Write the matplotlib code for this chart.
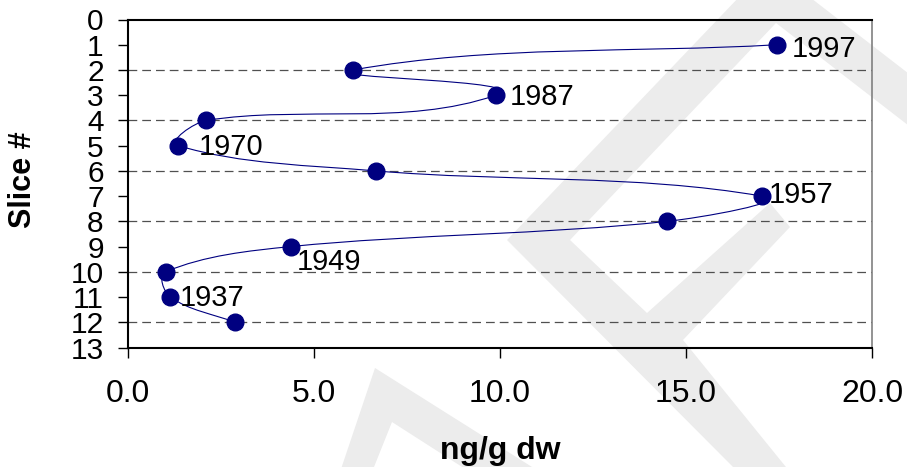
import numpy as np
import matplotlib
matplotlib.use('Agg')
import matplotlib.pyplot as plt
from matplotlib.path import Path
from matplotlib.patches import PathPatch, Polygon

# ---------------- data ----------------
conc = [17.44, 6.05, 9.89, 2.11, 1.35, 6.66, 17.04, 14.50, 4.37, 1.01, 1.14, 2.87]
slice_no = [1, 2, 3, 4, 5, 6, 7, 8, 9, 10, 11, 12]
year_labels = ['1997', '', '1987', '', '1970', '', '1957', '', '1949', '', '1937', '']
x_ticks = [0, 5, 10, 15, 20]
x_tick_labels = ['0.0', '5.0', '10.0', '15.0', '20.0']
y_ticks = list(range(0, 14))
grid_y = [2, 4, 6, 8, 10, 12]

# label offsets (points) for the year annotations - styling only
label_offsets = {'1997': (11, -3), '1987': (10, -1), '1970': (15, -0.7),
                 '1957': (5, 0.5), '1949': (4.5, -10.8), '1937': (6.5, -0.7)}

plt.rcParams['font.family'] = ['Liberation Sans', 'DejaVu Sans']

W, H = 907, 467
fig = plt.figure(figsize=(W / 100, H / 100), dpi=100)

# faint background watermark (decoration)
wm_color = '#ececec'
wm_shapes = [
    [(741, -5), (807, -5), (935, 94), (935, 146), (776, 23), (570, 240), (647, 313),
     (770, 203), (790, 227), (683, 340), (790, 472), (738, 472), (507, 240)],
    [(375, 368), (540, 472), (470, 472), (392, 422), (372, 472), (340, 472)],
]
for shp in wm_shapes:
    fig.patches.append(Polygon([(x / W, 1 - y / H) for x, y in shp], closed=True,
                               transform=fig.transFigure, facecolor=wm_color,
                               edgecolor='none', zorder=-5))

ax_w, ax_h = 744, 328
ax = fig.add_axes([128 / W, 1 - 347.5 / H, ax_w / W, ax_h / H])
ax.set_facecolor('none')

xmin, xmax, ymin, ymax = 0, 20, 0, 13

# dashed horizontal gridlines
for g in grid_y:
    ax.axhline(g, color='#505050', lw=0.9, ls=(0, (7, 4)), zorder=1)

# smoothed connecting line (Bezier through the points, tangents scaled to segment length)
sx = ax_w / (xmax - xmin)
sy = ax_h / (ymax - ymin)
S = np.array([sx, sy])
Q = np.column_stack([conc, slice_no]).astype(float) * S
n = len(Q)
T = []
for i in range(n):
    if i == 0:
        d = Q[1] - Q[0]
    elif i == n - 1:
        d = Q[n - 1] - Q[n - 2]
    else:
        d = Q[i + 1] - Q[i - 1]
    T.append(d / np.linalg.norm(d))
verts = [Q[0] / S]
codes = [Path.MOVETO]
for i in range(n - 1):
    L = np.linalg.norm(Q[i + 1] - Q[i])
    c1 = Q[i] + T[i] * L / 3.0
    c2 = Q[i + 1] - T[i + 1] * L / 3.0
    verts += [c1 / S, c2 / S, Q[i + 1] / S]
    codes += [Path.CURVE4] * 3
ax.add_patch(PathPatch(Path(verts, codes), facecolor='none', edgecolor='#000080',
                       lw=0.8, zorder=2))

ax.plot(conc, slice_no, 'o', ms=12, color='#000080', mec='#000080', zorder=3)

for xv, yv, lbl in zip(conc, slice_no, year_labels):
    if lbl:
        dx, dy = label_offsets[lbl]
        ax.annotate(lbl, (xv, yv), xytext=(dx, dy), textcoords='offset points',
                    ha='left', va='center', fontsize=21, color='black', zorder=4)

ax.set_xlim(xmin, xmax)
ax.set_ylim(ymax, ymin)
ax.set_xticks(x_ticks)
ax.set_xticklabels(x_tick_labels)
ax.set_yticks(y_ticks)
ax.set_yticklabels([str(v) for v in y_ticks])

ax.tick_params(axis='x', direction='out', length=7.5, width=1, pad=15, labelsize=23, colors='black')
ax.tick_params(axis='y', direction='out', length=7.5, width=1, pad=10, labelsize=21.5, colors='black')

for side in ['top', 'left', 'bottom']:
    ax.spines[side].set_color('black')
    ax.spines[side].set_linewidth(1.5)
ax.spines['right'].set_color('#808080')
ax.spines['right'].set_linewidth(1.2)

fig.text(23 / W, 1 - 180 / H, 'Slice #', rotation=90, fontsize=22, fontweight='bold',
         ha='center', va='center')
fig.text(500 / W, 1 - 451 / H, 'ng/g dw', fontsize=23, fontweight='bold',
         ha='center', va='center')

fig.savefig('out.png', dpi=100)
